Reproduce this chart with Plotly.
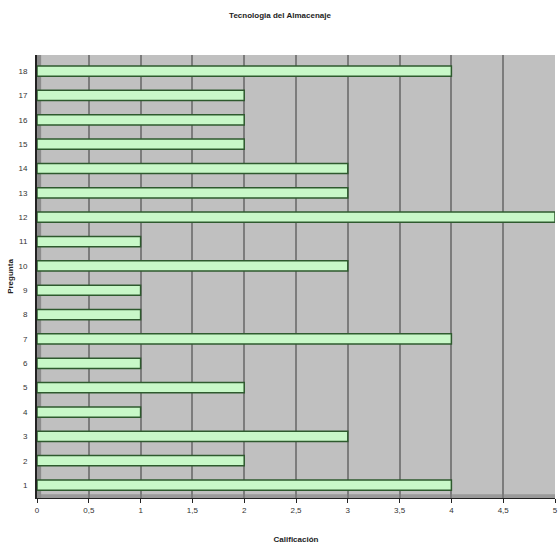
import plotly.graph_objects as go

# Survey results: "Tecnologia del Almacenaje"
preguntas = list(range(1, 19))
calificacion = [4, 2, 3, 1, 2, 1, 4, 1, 1, 3, 1, 5, 3, 3, 2, 2, 2, 4]
x_ticks = [0, 0.5, 1, 1.5, 2, 2.5, 3, 3.5, 4, 4.5, 5]

fig = go.Figure()
fig.add_trace(go.Bar(
    x=calificacion,
    y=preguntas,
    orientation="h",
    width=0.42,
    marker=dict(color="#c8f8c8", line=dict(color="#2e5a2e", width=1.5)),
    hoverinfo="x+y",
))

# darker floor and side wall to give the plot a boxed look
fig.add_shape(type="rect", xref="x", yref="y", x0=0, x1=5, y0=0.47, y1=0.62,
              fillcolor="#9a9a9a", line_width=0, layer="below")
fig.add_shape(type="rect", xref="x", yref="y", x0=0, x1=0.04, y0=0.47, y1=18.66,
              fillcolor="#8c8c8c", line_width=0, layer="below")

font = "Liberation Sans, Arial, sans-serif"
fig.update_layout(
    width=560, height=549,
    margin=dict(l=37, r=2, t=55, b=51),
    paper_bgcolor="white",
    plot_bgcolor="#c0c0c0",
    separators=",.",
    showlegend=False,
    title=dict(text="<b>Tecnologia del Almacenaje</b>", x=0.5, xanchor="center",
               y=0.978, yanchor="top", font=dict(family=font, size=8, color="#222")),
    font=dict(family=font, size=8, color="#333"),
    xaxis=dict(
        range=[0, 5], tickvals=x_ticks, showgrid=True, gridcolor="#7c7c7c", gridwidth=2,
        zeroline=False, showline=True, linecolor="#222", linewidth=1,
        ticks="outside", ticklen=4, tickcolor="#222", ticklabeloverflow="allow",
        title=dict(text="<b>Calificación</b>", font=dict(size=8, color="#222"), standoff=22),
    ),
    yaxis=dict(
        range=[0.47, 18.66], tickvals=preguntas, showgrid=False, zeroline=False,
        showline=True, linecolor="#222", linewidth=2, ticks="", ticklabelstandoff=6,
        title=dict(text="<b>Pregunta</b>", font=dict(size=8, color="#222"), standoff=4),
    ),
)

fig.write_html("out.html")
